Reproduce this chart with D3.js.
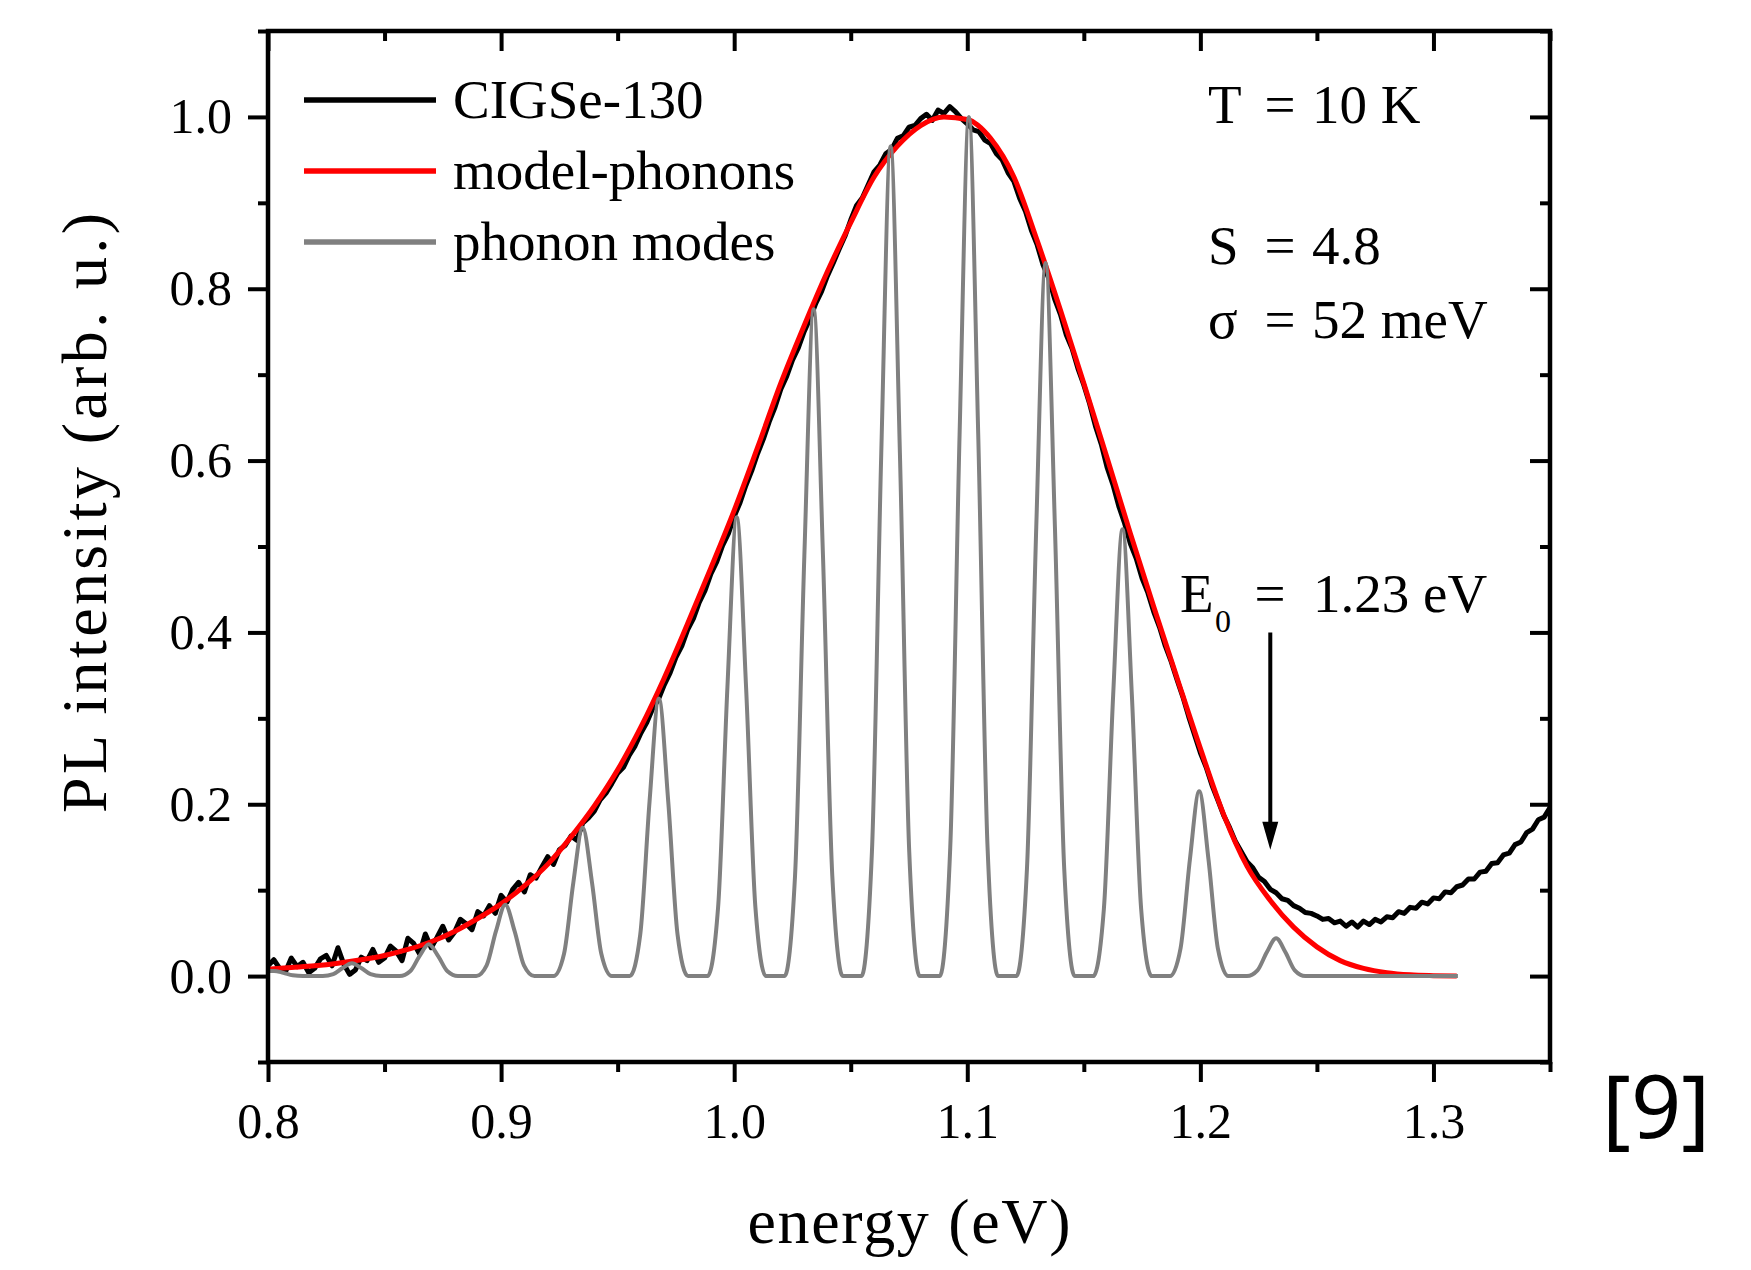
<!DOCTYPE html>
<html>
<head>
<meta charset="utf-8">
<script src="https://cdn.jsdelivr.net/npm/d3@7"></script>
<style>
    body { margin: 0; background: #fff; }
    svg text { font-family: 'Liberation Serif', 'Times New Roman', serif; fill: #000; }
</style>
</head>
<body>
<div class="pl-chart__container"></div>
<script>
//data
const xTicksMajor = [0.8, 0.9, 1.0, 1.1, 1.2, 1.3];
const xTicksMinor = [0.85, 0.95, 1.05, 1.15, 1.25, 1.35];
const yTicksMajor = [0, 0.2, 0.4, 0.6, 0.8, 1.0];
const yTicksMinor = [-0.1, 0.1, 0.3, 0.5, 0.7, 0.9, 1.1];

// measured spectrum, sampled every 2.5 meV from 0.8 eV
const cigsStart = 0.8;
const cigsStep = 0.0025;
const cigsIntensity = [
    0.012, 0.019, 0.009, 0.005, 0.021, 0.011, 0.016, 0.004, 0.009, 0.020, 0.024, 0.012, 0.033, 0.014, 0.002, 0.007, 0.022, 0.018, 0.031, 0.016,
    0.021, 0.035, 0.029, 0.018, 0.044, 0.038, 0.026, 0.049, 0.033, 0.045, 0.058, 0.042, 0.051, 0.066, 0.061, 0.054, 0.075, 0.070, 0.082, 0.073,
    0.094, 0.086, 0.101, 0.109, 0.098, 0.118, 0.114, 0.127, 0.139, 0.130, 0.147, 0.152, 0.163, 0.158, 0.178, 0.184, 0.192, 0.205, 0.213, 0.224,
    0.236, 0.243, 0.257, 0.268, 0.283, 0.295, 0.311, 0.322, 0.339, 0.353, 0.371, 0.384, 0.403, 0.416, 0.435, 0.449, 0.468, 0.482, 0.501, 0.515,
    0.535, 0.551, 0.571, 0.588, 0.608, 0.625, 0.645, 0.662, 0.683, 0.698, 0.717, 0.731, 0.750, 0.765, 0.783, 0.797, 0.815, 0.830, 0.846, 0.861,
    0.880, 0.897, 0.906, 0.921, 0.936, 0.944, 0.957, 0.962, 0.975, 0.978, 0.988, 0.990, 0.998, 1.003, 0.996, 1.008, 1.004, 1.012, 1.006, 0.998,
    0.992, 0.985, 0.983, 0.973, 0.969, 0.957, 0.950, 0.935, 0.925, 0.905, 0.890, 0.868, 0.851, 0.828, 0.812, 0.788, 0.770, 0.746, 0.730, 0.707,
    0.688, 0.666, 0.640, 0.619, 0.592, 0.572, 0.547, 0.527, 0.503, 0.486, 0.463, 0.446, 0.424, 0.406, 0.384, 0.366, 0.345, 0.325, 0.302, 0.281,
    0.260, 0.243, 0.222, 0.205, 0.187, 0.173, 0.157, 0.145, 0.133, 0.126, 0.115, 0.110, 0.101, 0.097, 0.090, 0.088, 0.082, 0.079, 0.074, 0.073,
    0.070, 0.066, 0.067, 0.062, 0.064, 0.058, 0.063, 0.057, 0.064, 0.060, 0.066, 0.063, 0.069, 0.068, 0.075, 0.073, 0.080, 0.079, 0.086, 0.084,
    0.091, 0.090, 0.098, 0.097, 0.104, 0.106, 0.113, 0.113, 0.121, 0.122, 0.131, 0.132, 0.141, 0.143, 0.153, 0.156, 0.167, 0.171, 0.182, 0.185,
    0.196
];

// model curve
const modelEnergy = [
    0.80, 0.81, 0.82, 0.83, 0.84, 0.85, 0.86, 0.87, 0.88, 0.89,
    0.90, 0.91, 0.92, 0.93, 0.94, 0.95, 0.96, 0.97, 0.98, 0.99,
    1.00, 1.01, 1.02, 1.03, 1.04, 1.05, 1.06, 1.07, 1.08, 1.09,
    1.10, 1.11, 1.12, 1.13, 1.14, 1.15, 1.16, 1.17, 1.18, 1.19,
    1.20, 1.21, 1.22, 1.23, 1.24, 1.25, 1.26, 1.27, 1.28, 1.29,
    1.30, 1.31
];
const modelIntensity = [
    0.008, 0.010, 0.012, 0.015, 0.019, 0.024, 0.031, 0.040, 0.052, 0.067,
    0.084, 0.105, 0.130, 0.162, 0.198, 0.240, 0.290, 0.347, 0.410, 0.475,
    0.542, 0.615, 0.690, 0.757, 0.820, 0.877, 0.930, 0.966, 0.990, 1.000,
    0.997, 0.975, 0.930, 0.856, 0.775, 0.690, 0.603, 0.515, 0.430, 0.347,
    0.265, 0.188, 0.128, 0.088, 0.057, 0.034, 0.018, 0.009, 0.004, 0.0015,
    0.0005, 0.0
];

// phonon replicas
const peakEnergy = [0.8026, 0.836, 0.869, 0.9018, 0.935, 0.9677, 1.0011, 1.0341, 1.0671, 1.1007, 1.1336, 1.1666, 1.1995, 1.2325];
const peakHeight = [0.006, 0.015, 0.037, 0.083, 0.173, 0.323, 0.534, 0.776, 0.966, 1.000, 0.830, 0.520, 0.215, 0.044];
const peakProfileOffset = [-0.0125, -0.008, -0.004, 0, 0.004, 0.008, 0.0125];
const peakProfileShape = [0, 0.15, 0.63, 1, 0.63, 0.15, 0];
const modesStart = [0.8, 0.006];
const modesEnd = [1.3105, 0];

// E0 arrow
const arrowEnergy = 1.23;
const arrowFrom = 0.40;
const arrowTo = 0.147;

const seriesNames = ['CIGSe-130', 'model-phonons', 'phonon modes'];
const seriesColors = ['#000000', '#ff0000', '#808080'];

//data preparation
const prepareData = () => {
    const cigs = cigsIntensity.map((v, i) => [cigsStart + i * cigsStep, v]);
    const model = modelEnergy.map((e, i) => [e, modelIntensity[i]]);
    let modes = [modesStart];
    peakEnergy.forEach((c, i) => {
        peakProfileOffset.forEach((o, j) => {
            const e = c + o;
            if (e > modesStart[0]) modes.push([e, peakHeight[i] * peakProfileShape[j]]);
        });
    });
    modes.push(modesEnd);
    return [
        { name: seriesNames[0], color: seriesColors[0], width: 5, curve: d3.curveLinear, values: cigs },
        { name: seriesNames[1], color: seriesColors[1], width: 5, curve: d3.curveMonotoneX, values: model },
        { name: seriesNames[2], color: seriesColors[2], width: 4, curve: d3.curveMonotoneX, values: modes }
    ];
}

//d3 chart
const defineChart = (series) => {
    const margin = { top: 31, right: 201, bottom: 208, left: 268 };
    const width = 1751;
    const height = 1270;
    const widthChart = width - margin.left - margin.right;
    const heightChart = height - margin.top - margin.bottom;

    const xScale = d3.scaleLinear().domain([0.8, 1.35]).range([0, widthChart]);
    const yScale = d3.scaleLinear().domain([-0.1, 1.1]).range([heightChart, 0]);

    const root = d3.select('.pl-chart__container')
        .append('svg')
        .attr('width', width)
        .attr('height', height)
        .style('display', 'block');

    root.append('rect').attr('width', width).attr('height', height).attr('fill', '#fff');

    const svg = root.append('g')
        .attr('transform', `translate(${margin.left}, ${margin.top})`);

    // axes (outward on bottom/left, inward on top/right)
    const styleAxis = g => {
        g.select('.domain').remove();
        g.selectAll('.tick line').attr('stroke', '#000').attr('stroke-width', 4);
        g.selectAll('.tick text').style('font-size', '50px');
    };
    const fmt = d3.format('.1f');

    svg.append('g').attr('transform', `translate(0,${heightChart})`)
        .call(d3.axisBottom(xScale).tickValues(xTicksMajor).tickSize(20).tickPadding(20).tickFormat(fmt))
        .call(styleAxis);
    svg.append('g').attr('transform', `translate(0,${heightChart})`)
        .call(d3.axisBottom(xScale).tickValues(xTicksMinor).tickSize(10).tickFormat(''))
        .call(styleAxis);
    svg.append('g')
        .call(d3.axisTop(xScale).tickValues(xTicksMajor).tickSize(-20).tickFormat(''))
        .call(styleAxis);
    svg.append('g')
        .call(d3.axisTop(xScale).tickValues(xTicksMinor).tickSize(-10).tickFormat(''))
        .call(styleAxis);

    svg.append('g')
        .call(d3.axisLeft(yScale).tickValues(yTicksMajor).tickSize(20).tickPadding(16).tickFormat(fmt))
        .call(styleAxis);
    svg.append('g')
        .call(d3.axisLeft(yScale).tickValues(yTicksMinor).tickSize(10).tickFormat(''))
        .call(styleAxis);
    svg.append('g').attr('transform', `translate(${widthChart},0)`)
        .call(d3.axisRight(yScale).tickValues(yTicksMajor).tickSize(-20).tickFormat(''))
        .call(styleAxis);
    svg.append('g').attr('transform', `translate(${widthChart},0)`)
        .call(d3.axisRight(yScale).tickValues(yTicksMinor).tickSize(-10).tickFormat(''))
        .call(styleAxis);

    // draw series
    const chartGroup = svg.append('g').attr('class', 'line-chart');
    chartGroup.selectAll('.line-series')
        .data(series)
        .enter()
        .append('path')
        .attr('class', 'line-series')
        .attr('d', d => d3.line().curve(d.curve).x(p => xScale(p[0])).y(p => yScale(p[1]))(d.values))
        .attr('fill', 'none')
        .attr('stroke', d => d.color)
        .attr('stroke-width', d => d.width)
        .attr('stroke-linejoin', 'round');

    // frame
    svg.append('rect')
        .attr('width', widthChart)
        .attr('height', heightChart)
        .attr('fill', 'none')
        .attr('stroke', '#000')
        .attr('stroke-width', 4.5);

    // legend
    const legend = svg.append('g').attr('class', 'legend')
        .selectAll('g')
        .data(series)
        .enter()
        .append('g')
        .attr('transform', (d, i) => `translate(36,${69 + i * 71})`);
    legend.append('line')
        .attr('x1', 0).attr('x2', 132)
        .attr('stroke', d => d.color)
        .attr('stroke-width', 5.5);
    legend.append('text')
        .attr('x', 149)
        .attr('y', 18)
        .style('font-size', '55px')
        .text(d => d.name);

    // E0 arrow
    const ax = xScale(arrowEnergy);
    svg.append('line')
        .attr('x1', ax).attr('x2', ax)
        .attr('y1', yScale(arrowFrom)).attr('y2', yScale(arrowTo) - 20)
        .attr('stroke', '#000').attr('stroke-width', 4);
    svg.append('path')
        .attr('d', `M${ax - 8},${yScale(arrowTo) - 28}L${ax + 8},${yScale(arrowTo) - 28}L${ax},${yScale(arrowTo)}Z`)
        .attr('fill', '#000');

    // parameter annotations
    const params = [
        { sym: 'T', val: '10 K', y: 123 },
        { sym: 'S', val: '4.8', y: 264 },
        { sym: 'σ', val: '52 meV', y: 338 }
    ];
    const ann = root.append('g').style('font-size', '55px');
    params.forEach(p => {
        ann.append('text').attr('x', 1208).attr('y', p.y).text(p.sym);
        ann.append('text').attr('x', 1280).attr('y', p.y).attr('text-anchor', 'middle').text('=');
        ann.append('text').attr('x', 1312).attr('y', p.y).text(p.val);
    });
    ann.append('text').attr('x', 1180).attr('y', 612).text('E');
    ann.append('text').attr('x', 1215).attr('y', 632).style('font-size', '32px').text('0');
    ann.append('text').attr('x', 1270).attr('y', 612).attr('text-anchor', 'middle').text('=');
    ann.append('text').attr('x', 1313).attr('y', 612).text('1.23 eV');

    // axis titles
    root.append('text')
        .attr('x', margin.left + widthChart / 2)
        .attr('y', 1243)
        .attr('text-anchor', 'middle')
        .attr('textLength', 323)
        .attr('lengthAdjust', 'spacing')
        .style('font-size', '64px')
        .text('energy (eV)');
    root.append('text')
        .attr('transform', 'translate(106,513) rotate(-90)')
        .attr('text-anchor', 'middle')
        .attr('textLength', 600)
        .attr('lengthAdjust', 'spacing')
        .style('font-size', '64px')
        .text('PL intensity (arb. u.)');

    // reference tag
    root.append('text')
        .attr('x', 1602)
        .attr('y', 1138)
        .style('font-family', "'Noto Sans', 'DejaVu Sans', sans-serif")
        .style('font-size', '88px')
        .text('[9]');
}

defineChart(prepareData());
</script>
</body>
</html>
